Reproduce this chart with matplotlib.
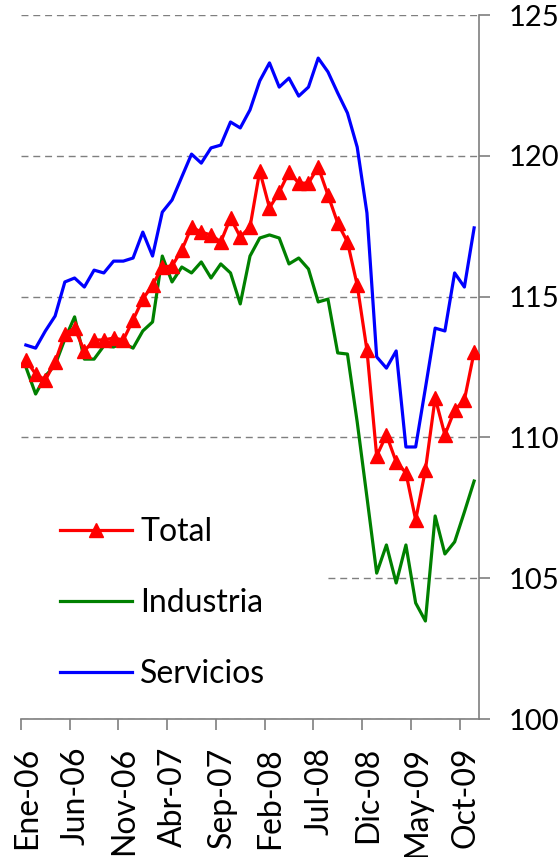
import numpy as np
import matplotlib

matplotlib.use("Agg")
import matplotlib.pyplot as plt
import matplotlib.transforms as mtransforms
from matplotlib.patches import Rectangle

plt.rcParams["font.family"] = ["Lato", "DejaVu Sans"]

# monthly index, Ene-06 .. Nov-09
months = ["Ene-06", "Jun-06", "Nov-06", "Abr-07", "Sep-07",
          "Feb-08", "Jul-08", "Dic-08", "May-09", "Oct-09"]

total = [112.75, 112.25, 112.04, 112.68, 113.67, 113.88, 113.07, 113.46, 113.46, 113.53,
         113.46, 114.17, 114.91, 115.41, 116.05, 116.09, 116.65, 117.47, 117.29, 117.19,
         116.94, 117.79, 117.12, 117.47, 119.46, 118.15, 118.71, 119.42, 119.03, 119.03,
         119.60, 118.61, 117.61, 116.94, 115.41, 113.10, 109.34, 110.09, 109.13, 108.74,
         107.07, 108.84, 111.40, 110.09, 110.97, 111.33, 113.03]
industria = [112.50, 111.54, 112.18, 112.57, 113.49, 114.28, 112.78, 112.78, 113.25, 113.21,
             113.35, 113.17, 113.78, 114.10, 116.44, 115.52, 116.05, 115.84, 116.23, 115.66,
             116.16, 115.84, 114.74, 116.44, 117.08, 117.19, 117.08, 116.16, 116.37, 115.98,
             114.81, 114.91, 113.00, 112.96, 110.55, 107.88, 105.18, 106.18, 104.83, 106.18,
             104.12, 103.48, 107.21, 105.86, 106.29, 107.35, 108.45]
servicios = [113.28, 113.17, 113.78, 114.31, 115.52, 115.66, 115.34, 115.94, 115.84, 116.26,
             116.26, 116.37, 117.29, 116.44, 118.00, 118.43, 119.25, 120.06, 119.74, 120.28,
             120.38, 121.20, 120.99, 121.63, 122.66, 123.30, 122.44, 122.76, 122.12, 122.44,
             123.47, 122.98, 122.23, 121.52, 120.31, 117.97, 112.86, 112.46, 113.07, 109.66,
             109.66, 111.75, 113.88, 113.78, 115.84, 115.34, 117.44]

x = np.arange(len(total))
W, H = 558, 857

fig = plt.figure(figsize=(W / 100, H / 100), dpi=100)
ax = fig.add_axes([21 / W, 1 - 719 / H, (479 - 21) / W, (719 - 15) / H])

ax.plot(x, servicios, color="#0000FF", lw=2.3, label="Servicios", zorder=3)
ax.plot(x, industria, color="#008000", lw=2.3, label="Industria", zorder=3)
ax.plot(x, total, color="#FF0000", lw=2.3, marker="^", ms=10, label="Total", zorder=4)

ax.set_xlim(-0.5, len(total) - 0.5)
ax.set_ylim(100, 125)

ax.yaxis.tick_right()
ax.set_yticks(range(100, 126, 5))
ax.grid(axis="y", color="#7f7f7f", ls=(0, (5, 3.5)), lw=1)
ax.set_axisbelow(True)

ax.set_xticks(np.arange(0, len(total), 5) - 0.5)
ax.set_xticklabels(months, rotation=90)

for side in ["left", "top"]:
    ax.spines[side].set_visible(False)
for side in ["right", "bottom"]:
    ax.spines[side].set_color("#7f7f7f")
    ax.spines[side].set_linewidth(1.2)

ax.tick_params(axis="both", direction="out", length=8, width=1.2, color="#7f7f7f",
               labelcolor="black")
ax.tick_params(axis="x", pad=12, labelsize=23)
ax.tick_params(axis="y", pad=13, labelsize=21)

shift = mtransforms.ScaledTranslation(6 / 100, 0, fig.dpi_scale_trans)
for lab in ax.get_xticklabels():
    lab.set_transform(lab.get_transform() + shift)

# white box behind the legend hides the gridline there
ax.add_patch(Rectangle((0, (719 - 705) / 704), (328 - 21) / 458, (705 - 490) / 704,
                       transform=ax.transAxes, facecolor="white", edgecolor="none", zorder=1))

h, l = ax.get_legend_handles_labels()
order = [2, 1, 0]
ax.legend([h[i] for i in order], [l[i] for i in order],
          loc="upper left", bbox_to_anchor=(60 / W, 1 - 517 / H),
          bbox_transform=fig.transFigure, frameon=False, fontsize=23,
          borderaxespad=0, borderpad=0, handlelength=2.26, handletextpad=0.25,
          labelspacing=1.29)

fig.savefig("out.png", dpi=100)
